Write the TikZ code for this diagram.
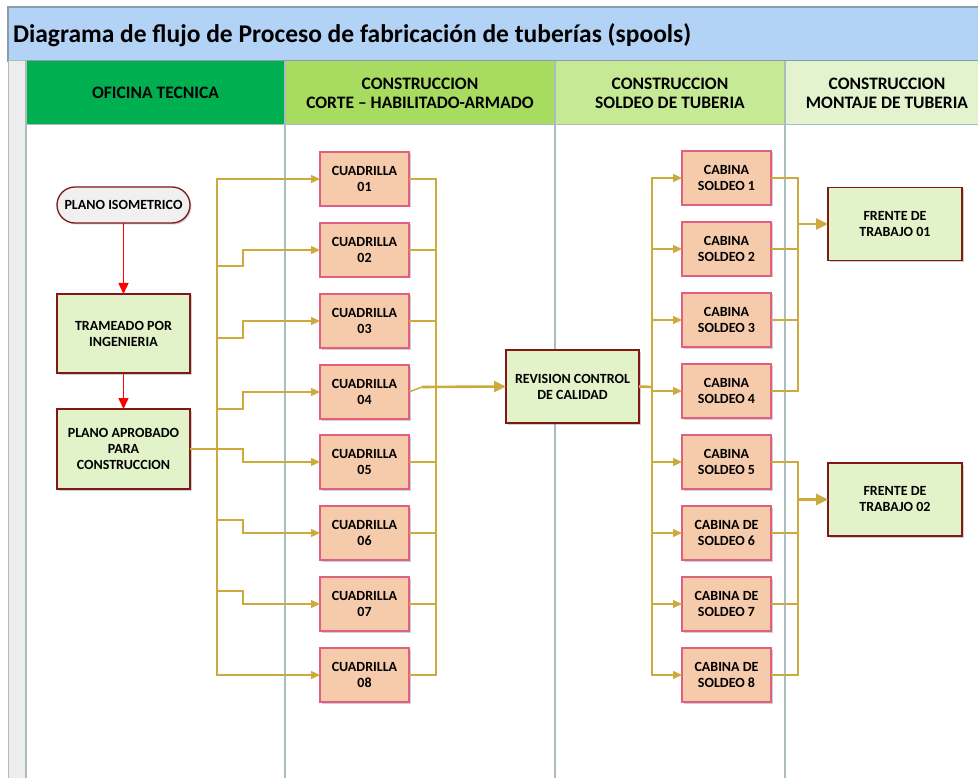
\documentclass[tikz,border=0pt]{standalone}
\usepackage{fontspec}
\setmainfont{Carlito}
\usetikzlibrary{arrows.meta,shadows}
\definecolor{titleblue}{HTML}{B3D3F6}
\definecolor{framegray}{HTML}{8C9CA4}
\definecolor{lanegray}{HTML}{A9BDBD}
\definecolor{stripgray}{HTML}{EDEDED}
\definecolor{laneA}{HTML}{00B050}
\definecolor{laneB}{HTML}{A8DC60}
\definecolor{laneC}{HTML}{C6E996}
\definecolor{laneD}{HTML}{E2F3CE}
\definecolor{cuadfill}{HTML}{F6CBAB}
\definecolor{cuadline}{HTML}{E06080}
\definecolor{greenfill}{HTML}{E2F3C9}
\definecolor{darkred}{HTML}{801818}
\definecolor{isofill}{HTML}{F0F0F0}
\definecolor{gold}{HTML}{CCAA3C}
\begin{document}
\begin{tikzpicture}[x=1pt,y=-1pt,
  every node/.style={inner sep=0pt, outer sep=0pt},
  hdr/.style={align=center, font=\bfseries\fontsize{17.5}{19}\selectfont, minimum height=64},
  sh/.style={drop shadow={shadow xshift=1.5pt, shadow yshift=-1.5pt, opacity=0.3, fill=black!60}},
  nodefont/.style={font=\bfseries\fontsize{14}{16}\selectfont},
  cuad/.style={sh, nodefont, rectangle, draw=cuadline, line width=1.3pt, fill=cuadfill, minimum width=89, minimum height=54, align=center},
  gbox/.style={sh, nodefont, rectangle, draw=darkred, line width=1.3pt, fill=greenfill, align=center},
  isobox/.style={sh, nodefont, rectangle, rounded corners=18, draw=darkred, line width=1.3pt, fill=isofill, minimum width=133, minimum height=36, align=center},
  gl/.style={draw=gold, line width=1.4pt},
  glt/.style={draw=gold, line width=2.6pt},
  arr/.style={-{Triangle[length=9pt,width=8pt]}},
  arrt/.style={-{Triangle[length=12pt,width=11pt]}},
  redarr/.style={draw=red, line width=1.5pt, -{Triangle[length=11pt,width=10pt]}}
]
\useasboundingbox (0,0) rectangle (978,778);
\clip (0,0) rectangle (978,778);
\fill[white] (0,0) rectangle (978,778);

% title bar
\filldraw[fill=titleblue, draw=framegray, line width=1.2pt] (8,7) rectangle (990,61);
\node[anchor=west, font=\bfseries\fontsize{25.5}{29}\selectfont] (title) at (13,35) {Diagrama de flujo de Proceso de fabricación de tuberías (spools)};

% left strip
\filldraw[fill=stripgray, draw=lanegray, line width=1pt] (8,61) rectangle (26,790);

% lane headers
\node[hdr, fill=laneA, minimum width=259] (h1) at (155.5,93) {OFICINA TECNICA};
\node[hdr, fill=laneB, minimum width=270] (h2) at (420,93) {CONSTRUCCION\\CORTE – HABILITADO-ARMADO};
\node[hdr, fill=laneC, minimum width=230] (h3) at (670,93) {CONSTRUCCION\\SOLDEO DE TUBERIA};
\node[hdr, fill=laneD, minimum width=204] (h4) at (887,93) {CONSTRUCCION\\MONTAJE DE TUBERIA};

% lane lines
\draw[lanegray, line width=1pt] (26,125) -- (990,125);
\foreach \x in {26,285,555,785} \draw[lanegray, line width=1.2pt] (\x,61) -- (\x,790);

% office nodes
\node[isobox] (iso) at (123.5,205) {PLANO ISOMETRICO};
\node[gbox, minimum width=133, minimum height=79] (tram) at (123.5,333.5) {TRAMEADO POR\\INGENIERIA};
\node[gbox, minimum width=133, minimum height=80] (ap) at (123.5,449) {PLANO APROBADO\\PARA\\CONSTRUCCION};

% cuadrillas
\node[cuad] (c1) at (364.5,179) {CUADRILLA\\01};
\node[cuad] (c2) at (364.5,250) {CUADRILLA\\02};
\node[cuad] (c3) at (364.5,321) {CUADRILLA\\03};
\node[cuad] (c4) at (364.5,392) {CUADRILLA\\04};
\node[cuad] (c5) at (364.5,462) {CUADRILLA\\05};
\node[cuad] (c6) at (364.5,533) {CUADRILLA\\06};
\node[cuad] (c7) at (364.5,604) {CUADRILLA\\07};
\node[cuad] (c8) at (364.5,675) {CUADRILLA\\08};

% revision
\node[gbox, minimum width=133, minimum height=73] (rv) at (572.5,386.5) {REVISION CONTROL\\DE CALIDAD};

% cabinas
\node[cuad] (k1) at (726.5,178) {CABINA\\SOLDEO 1};
\node[cuad] (k2) at (726.5,249) {CABINA\\SOLDEO 2};
\node[cuad] (k3) at (726.5,320) {CABINA\\SOLDEO 3};
\node[cuad] (k4) at (726.5,391) {CABINA\\SOLDEO 4};
\node[cuad] (k5) at (726.5,462) {CABINA\\SOLDEO 5};
\node[cuad] (k6) at (726.5,533) {CABINA DE\\SOLDEO 6};
\node[cuad] (k7) at (726.5,604) {CABINA DE\\SOLDEO 7};
\node[cuad] (k8) at (726.5,675) {CABINA DE\\SOLDEO 8};

% frentes
\node[gbox, minimum width=134, minimum height=73] (f1) at (895,224) {FRENTE DE\\TRABAJO 01};
\node[gbox, minimum width=134, minimum height=73] (f2) at (895,499.5) {FRENTE DE\\TRABAJO 02};

% red arrows
\draw[redarr] (iso.south) -- (tram.north);
\draw[redarr] (tram.south) -- (ap.north);

% aprobado -> cuadrillas
\draw[gl,arr] (ap.east) -- (217,449) |- (c1.west);
\draw[gl,arr] (ap.east) -- (217,449) -- (217,266) -- (243,266) |- (c2.west);
\draw[gl,arr] (ap.east) -- (217,449) -- (217,338) -- (243,338) |- (c3.west);
\draw[gl,arr] (ap.east) -- (217,449) -- (217,409) -- (243,409) |- (c4.west);
\draw[gl,arr] (ap.east) -- (243,449) |- (c5.west);
\draw[gl,arr] (ap.east) -- (217,449) -- (217,520) -- (243,520) |- (c6.west);
\draw[gl,arr] (ap.east) -- (217,449) -- (217,591) -- (243,591) |- (c7.west);
\draw[gl,arr] (ap.east) -- (217,449) |- (c8.west);

% cuadrillas -> revision
\draw[gl] (c1.east) -| (436,387);
\draw[gl] (c2.east) -| (436,387);
\draw[gl] (c3.east) -| (436,387);
\draw[gl] (c5.east) -| (436,387);
\draw[gl] (c6.east) -| (436,387);
\draw[gl] (c7.east) -| (436,387);
\draw[gl] (c8.east) -| (436,387);
\draw[gl] (c4.east) -- (422,387);
\draw[glt,arrt] (422,387) -- (rv.west);

% revision -> cabinas
\draw[glt] (rv.east) -- (652,387);
\draw[gl] (652,387) -- (652,178);
\draw[draw=gold, line width=2pt] (652,387) -- (652,675);
\foreach \k in {k1,k2,k3,k4,k5,k6,k7,k8}
  \draw[gl, line width=1.2pt, arr] (652,387) |- (\k.west);

% cabinas -> frentes
\foreach \k in {k1,k2,k3,k4}
  \draw[gl] (\k.east) -| (798,224);
\draw[glt,arrt] (798,224) -- (f1.west);
\draw[gl] (k5.east) -| (798,499.5);
\foreach \k in {k6,k7,k8}
  \draw[draw=gold, line width=2.2pt] (\k.east) -| (798,499.5);
\draw[glt,arrt] (798,499.5) -- (f2.west);
\end{tikzpicture}
\end{document}
